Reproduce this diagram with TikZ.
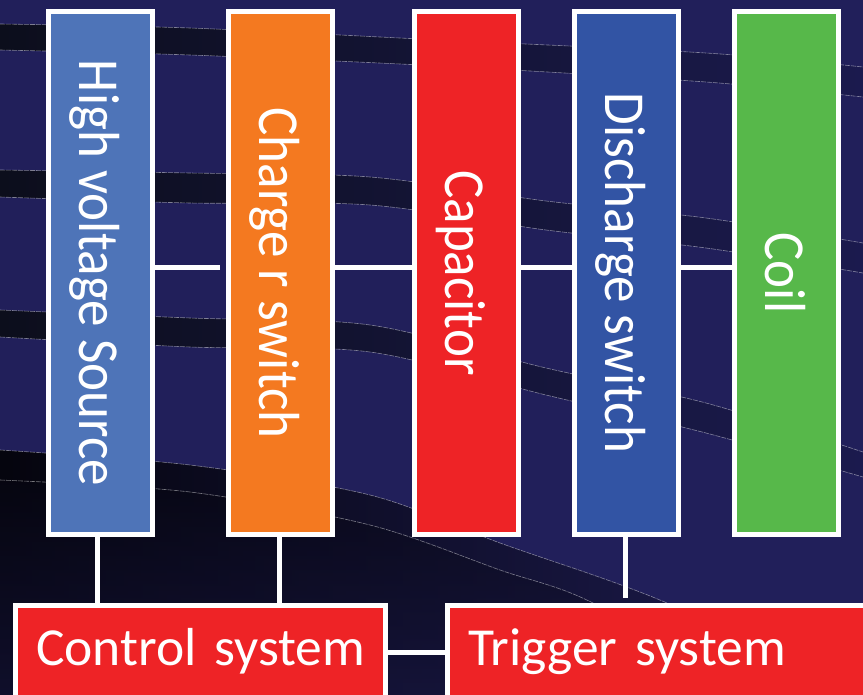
\documentclass[tikz,border=0pt]{standalone}
\usepackage{fontspec}
\usepackage{graphicx}
\setmainfont{Carlito}
\usetikzlibrary{calc}
\definecolor{navy}{HTML}{211F5A}
\definecolor{bandL}{HTML}{0C0E1C}
\definecolor{bandR}{HTML}{1B1A4E}
\definecolor{cHV}{HTML}{4E74B8}
\definecolor{cOr}{HTML}{F47920}
\definecolor{cRed}{HTML}{EE2326}
\definecolor{cDis}{HTML}{3254A4}
\definecolor{cGreen}{HTML}{57B84A}
\newcommand\vtext[1]{\rotatebox[origin=c]{-90}{\rule[-12pt]{0pt}{66pt}\scalebox{0.915}[1]{#1}}}
\begin{document}
\begin{tikzpicture}[x=1pt,y=-1pt,
  blk/.style={draw=white, line width=5pt, inner sep=0pt, minimum width=104pt,
    minimum height=523pt, text=white, font=\fontsize{58}{60}\selectfont},
  bot/.style={draw=white, line width=5pt, fill=cRed, text=white,
    font=\fontsize{53.5}{60}\selectfont, minimum height=93pt, inner ysep=0pt,
    inner xsep=21pt, align=left, anchor=west},
  wire/.style={draw=white, line width=5pt},
  edgeline/.style={white, opacity=0.45, line width=0.6pt, dash pattern=on 5pt off 1pt}
]
\useasboundingbox (0,0) rectangle (863,695);
\clip (0,0) rectangle (863,695);
% background
\fill[navy] (0,0) rectangle (863,695);
\shade[left color=bandL, right color=bandR]
  plot[smooth] coordinates {(0,24) (190,28) (440,40) (706,53) (863,67)}
  -- plot[smooth] coordinates {(863,97) (706,82) (440,66) (190,55) (0,50)} -- cycle;
\shade[left color=bandL, right color=bandR]
  plot[smooth] coordinates {(0,170) (190,173) (370,177) (546,201) (706,218) (863,243)}
  -- plot[smooth] coordinates {(863,273) (706,248) (546,230) (370,205) (190,203) (0,197)} -- cycle;
\shade[left color=bandL, right color=bandR]
  plot[smooth] coordinates {(0,310) (190,318) (370,325) (546,368) (706,403) (863,452)}
  -- plot[smooth] coordinates {(863,477) (706,433) (546,395) (370,352) (190,347) (0,337)} -- cycle;
\shade[left color=black!85!navy, right color=navy!90!black]
  plot[smooth] coordinates {(0,450) (190,465) (370,495) (500,543) (667,603) (863,700)}
  -- (0,700) -- cycle;
\shade[top color=black!80!navy, bottom color=navy!70!black, opacity=0.6]
  plot[smooth] coordinates {(0,480) (190,492) (370,525) (500,570) (593,603) (760,700)}
  -- (0,700) -- cycle;
\foreach \pts in {
  {(0,24) (190,28) (440,40) (706,53) (863,67)},
  {(0,50) (190,55) (440,66) (706,82) (863,97)},
  {(0,170) (190,173) (370,177) (546,201) (706,218) (863,243)},
  {(0,197) (190,203) (370,205) (546,230) (706,248) (863,273)},
  {(0,310) (190,318) (370,325) (546,368) (706,403) (863,452)},
  {(0,337) (190,347) (370,352) (546,395) (706,433) (863,477)},
  {(0,450) (190,465) (370,495) (500,543) (667,603) (863,700)},
  {(0,480) (190,492) (370,525) (500,570) (593,603) (760,700)}}
  {\draw[edgeline] plot[smooth] coordinates \pts;}
% blocks
\node[blk, fill=cHV] (hvs) at (100.5,273) {\vtext{High voltage Source}};
\node[blk, fill=cOr] (chg) at (280.5,273) {\vtext{Charge r switch}};
\node[blk, fill=cRed] (cap) at (466.5,273) {\vtext{Capacitor}};
\node[blk, fill=cDis] (dis) at (626.5,273) {\vtext{Discharge switch}};
\node[blk, fill=cGreen] (coil) at (786.5,273) {\vtext{Coil}};
\node[bot, text width=328pt] (ctrl) at (12.5,652) {\rule[-12pt]{0pt}{51pt}\mbox{Control system}};
\node[bot, text width=413.5pt] (trig) at (444.5,652) {\rule[-12pt]{0pt}{51pt}\mbox{Trigger system}};
% connectors
\coordinate (gap) at (220,268);
\coordinate (dend) at (625,598);
\draw[wire] ([yshift=5pt]hvs.east) -- (gap);
\draw[wire] ([yshift=5pt]chg.east) -- ([yshift=5pt]cap.west);
\draw[wire] ([yshift=5pt]cap.east) -- ([yshift=5pt]dis.west);
\draw[wire] ([yshift=5pt]dis.east) -- ([yshift=5pt]coil.west);
\draw[wire] ($(hvs.south)+(-3.5,0)$) -- ($(hvs.south |- ctrl.north)+(-3.5,0)$);
\draw[wire] ($(chg.south)+(-1.5,0)$) -- ($(chg.south |- ctrl.north)+(-1.5,0)$);
\draw[wire] ($(dis.south)+(-1.5,0)$) -- (dend);
\draw[wire] (ctrl.east) -- (trig.west);
\end{tikzpicture}
\end{document}
